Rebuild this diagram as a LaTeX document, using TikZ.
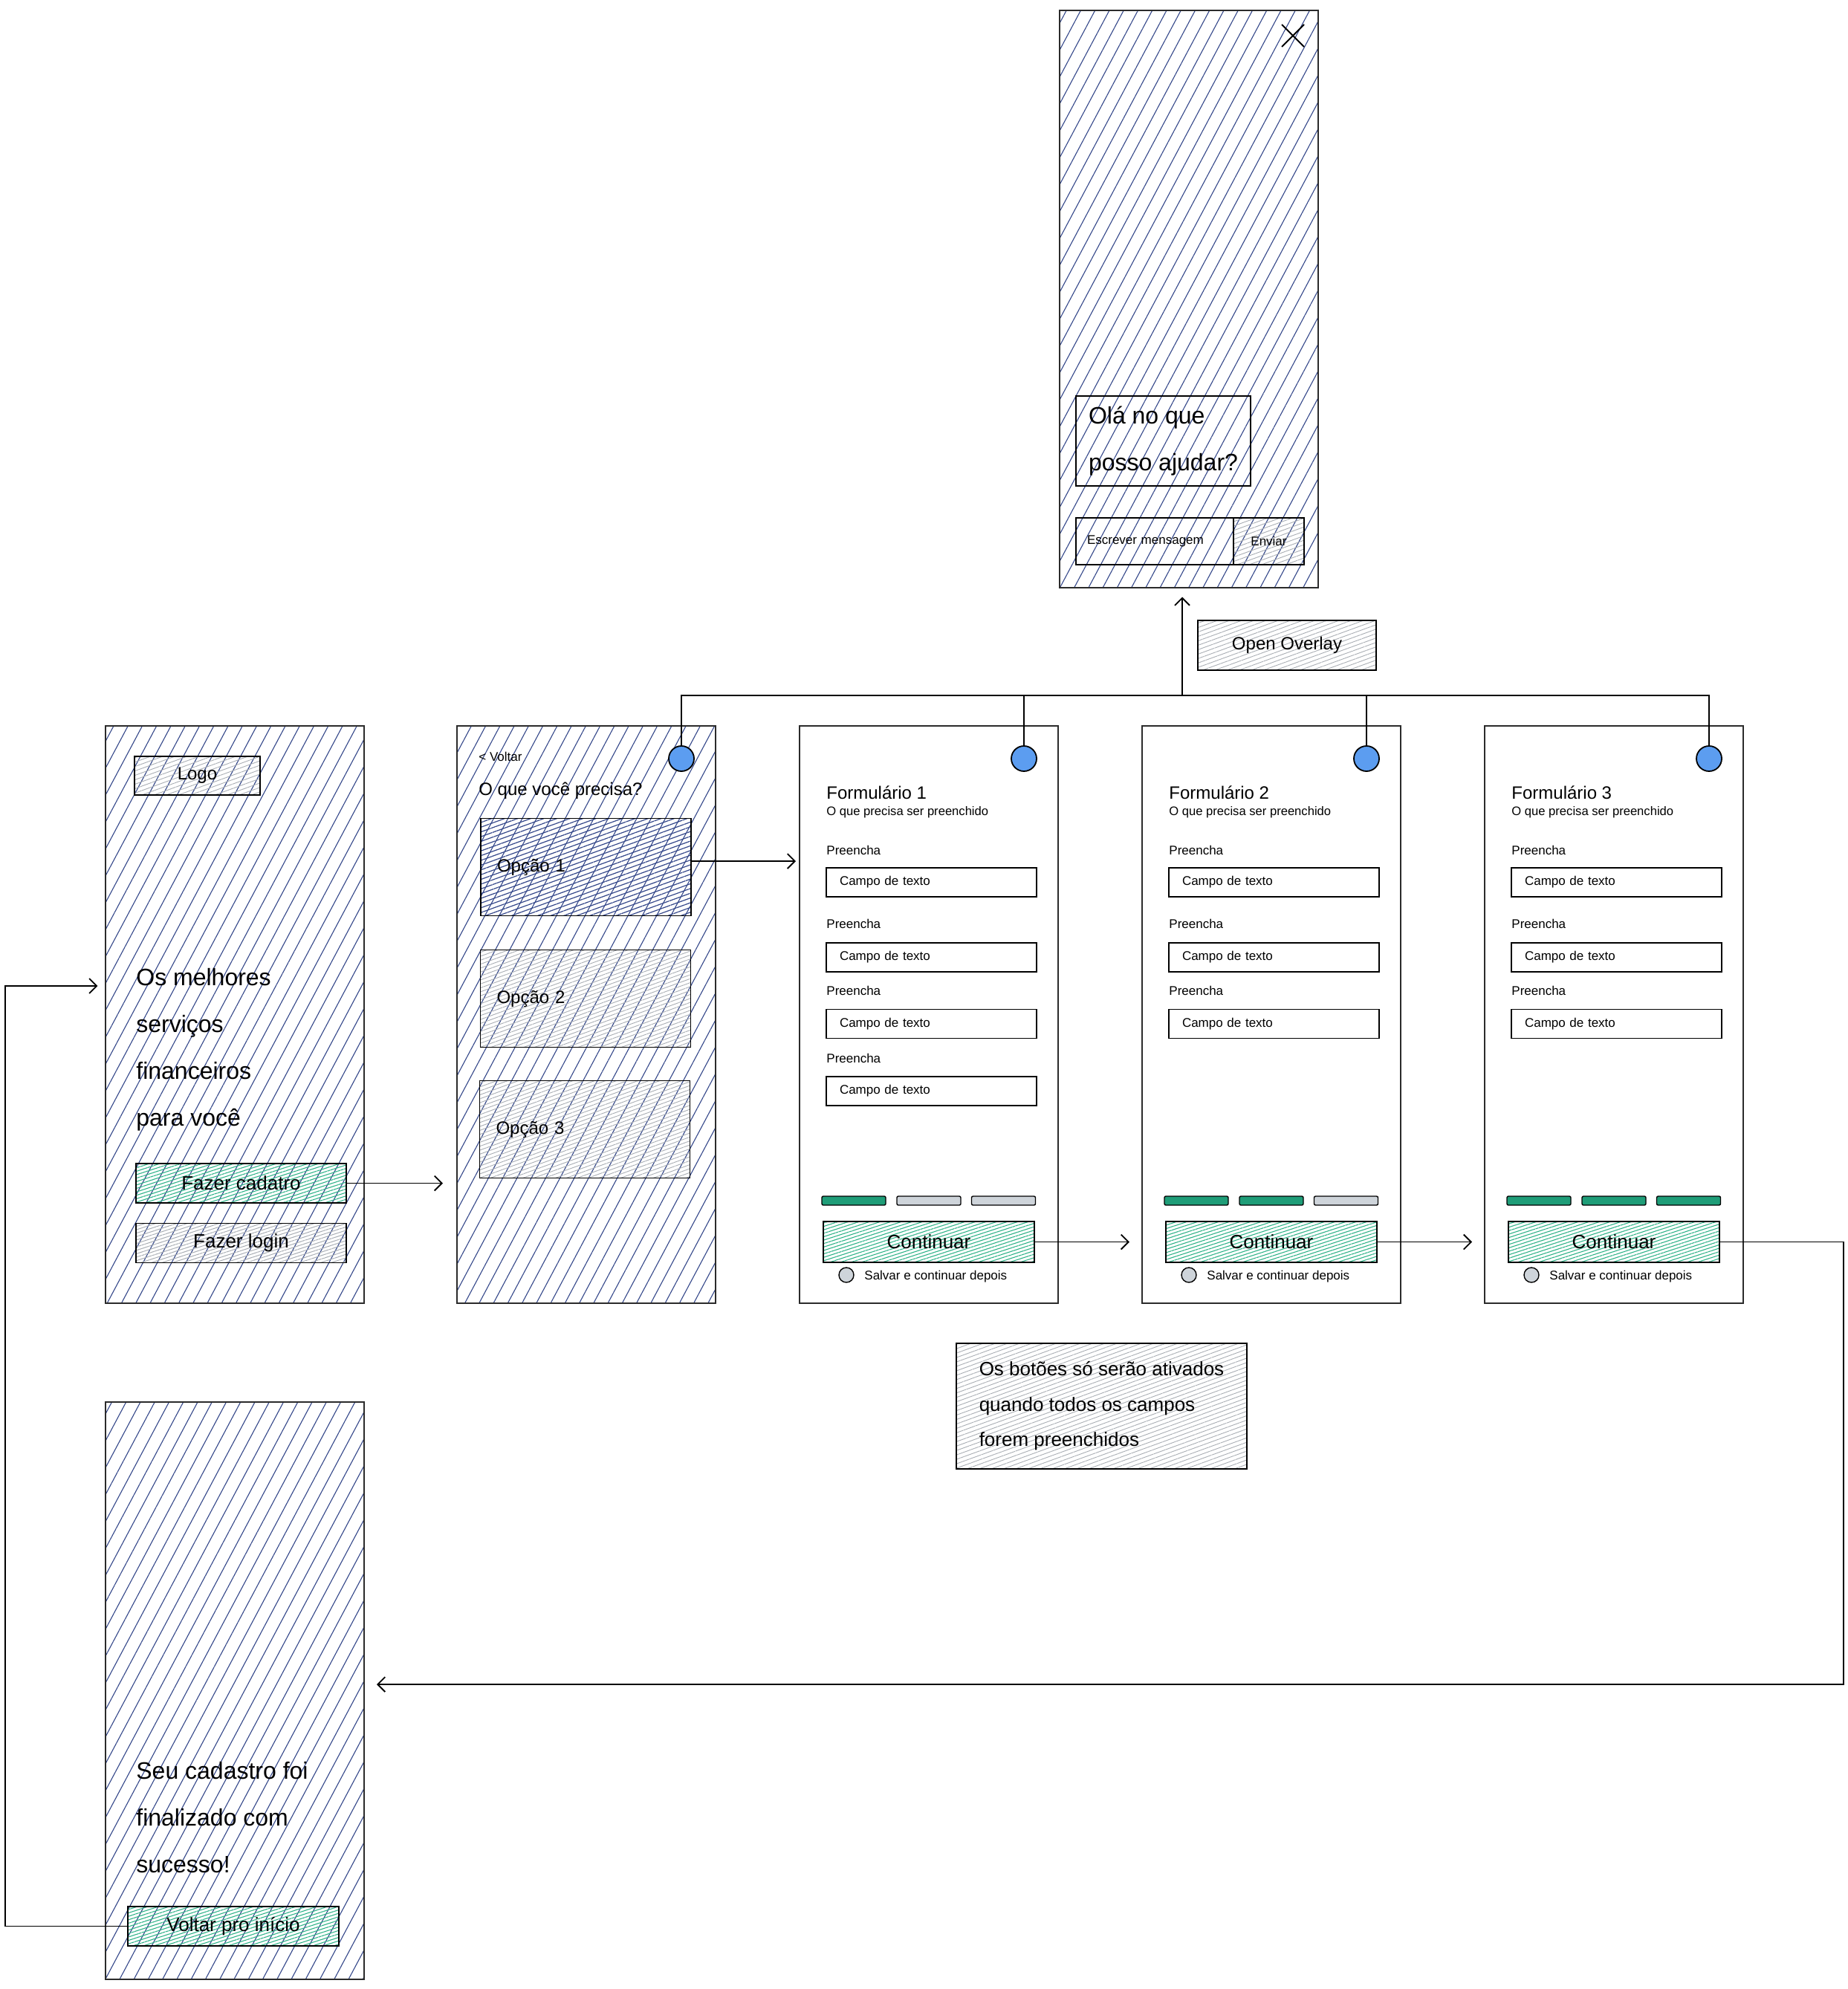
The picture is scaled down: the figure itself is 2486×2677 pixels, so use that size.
\documentclass[tikz,border=0pt]{standalone}
\usepackage{fontspec}
\setmainfont{Liberation Sans}
\usepackage{tikz}
\usetikzlibrary{arrows.meta, positioning, patterns.meta, shapes.misc}

\definecolor{hatchBlue}{HTML}{34478A}
\definecolor{hatchGreen}{HTML}{2FB388}
\definecolor{hatchGray}{HTML}{A9AEB4}
\definecolor{barGreen}{HTML}{1F9D78}
\definecolor{barGray}{HTML}{CED4DA}
\definecolor{dotBlue}{HTML}{5C9DF0}
\definecolor{inkGray}{HTML}{2B2B2B}

\begin{document}
\begin{tikzpicture}[
        x=0.5pt, y=-0.5pt,
        screenNode/.style={rectangle, draw=inkGray, line width=1pt, minimum width=174pt, minimum height=388.5pt},
        hatchScreen/.style={screenNode, pattern={Lines[angle=62, distance=8.5pt, line width=0.55pt]}, pattern color=hatchBlue},
        btnNode/.style={rectangle, draw, line width=0.9pt, minimum width=141.5pt, minimum height=26.5pt, font=\fontsize{13}{15}\selectfont},
        greenBtn/.style={btnNode, pattern={Lines[angle=18, distance=2.2pt, line width=0.55pt]}, pattern color=hatchGreen},
        grayBtn/.style={btnNode, pattern={Lines[angle=18, distance=2.2pt, line width=0.5pt]}, pattern color=hatchGray},
        grayBox/.style={rectangle, draw, line width=0.9pt, pattern={Lines[angle=20, distance=2.8pt, line width=0.45pt]}, pattern color=hatchGray},
        optionBox/.style={rectangle, draw, line width=0.9pt, minimum width=141.5pt, minimum height=65.5pt, text width=119.5pt, inner xsep=11pt, align=left, font=\fontsize{12}{14}\selectfont},
        fieldNode/.style={rectangle, draw, line width=0.8pt, minimum height=19.5pt, text width=123.5pt, inner xsep=9pt, align=left, font=\fontsize{8.5}{10}\selectfont},
        barNode/.style={rectangle, draw, line width=0.7pt, rounded corners=1pt, minimum width=43pt, minimum height=6pt, inner sep=0pt},
        dotNode/.style={circle, draw, line width=0.9pt, fill=dotBlue, minimum size=17pt, inner sep=0pt},
        radioNode/.style={circle, draw, line width=0.7pt, fill=barGray, minimum size=10pt, inner sep=0pt},
        bigText/.style={font=\fontsize{16}{31.5}\selectfont, align=left, anchor=west, inner sep=0pt},
        midText/.style={font=\fontsize{12}{14}\selectfont, anchor=west, inner sep=0pt},
        smallText/.style={font=\fontsize{8.5}{10}\selectfont, anchor=west, inner sep=0pt},
        wire/.style={line width=0.9pt},
        arrow/.style={-{Straight Barb[length=5pt, width=10pt]}, line width=0.9pt}
    ]
        \path[use as bounding box, fill=white] (0,0) rectangle (2486,2677);

        % home screen
        \node[hatchScreen] (homeScreen) at (316,1365) {};
        \node[grayBox, minimum width=84.5pt, minimum height=26pt, font=\fontsize{12}{14}\selectfont] (logo) at (265.5,1044) {Logo};
        \node[bigText] (homeText) at (183,1413) {Os melhores\\serviços\\financeiros\\para você};
        \node[greenBtn] (signUp) at (324.5,1592.5) {Fazer cadatro};
        \node[grayBtn] (logIn) at (324.5,1673) {Fazer login};

        % options screen
        \node[hatchScreen] (optionScreen) at (789,1365) {};
        \node[smallText] (back) at (644,1018) {< Voltar};
        \node[midText] (question) at (644,1064) {O que você precisa?};
        \node[optionBox, pattern={Lines[angle=20, distance=3pt, line width=0.6pt]}, pattern color=hatchBlue] (optOne) at (788.5,1167) {Opção 1};
        \node[optionBox, pattern={Lines[angle=20, distance=2.5pt, line width=0.45pt]}, pattern color=hatchGray] (optTwo) at (788,1344) {Opção 2};
        \node[optionBox, pattern={Lines[angle=20, distance=2.5pt, line width=0.45pt]}, pattern color=hatchGray] (optThree) at (787,1520) {Opção 3};
        \node[dotNode] (dotOpt) at (917,1021) {};

        % form screens
        \foreach \i/\dx/\ng in {1/0/1, 2/461/2, 3/922/3} {
            \node[screenNode] (form\i) at ({1250+\dx},1365) {};
            \node[dotNode] (dot\i) at ({1378+\dx},1021) {};
            \node[midText] (title\i) at ({1112+\dx},1067) {Formulário \i};
            \node[smallText, font=\fontsize{8.3}{10}\selectfont] (sub\i) at ({1112+\dx},1093) {O que precisa ser preenchido};
            \foreach \k/\ly/\fy in {1/1144/1187.5, 2/1243/1288.5, 3/1333/1378} {
                \node[smallText] (label\i\k) at ({1112+\dx},\ly) {Preencha};
                \node[fieldNode] (field\i\k) at ({1253.5+\dx},\fy) {Campo de texto};
            }
            \foreach \b/\bx in {1/1149, 2/1250, 3/1350.5} {
                \ifnum\b>\ng \def\barCol{barGray}\else\def\barCol{barGreen}\fi
                \node[barNode, fill=\barCol] (bar\i\b) at ({\bx+\dx},1616) {};
            }
            \node[greenBtn, minimum width=142pt, minimum height=27.5pt] (cont\i) at ({1250+\dx},1671.5) {Continuar};
            \node[radioNode] (radio\i) at ({1139+\dx},1716) {};
            \node[smallText] (save\i) at ({1163+\dx},1718) {Salvar e continuar depois};
        }
        \node[smallText] (label14) at (1112,1424) {Preencha};
        \node[fieldNode] (field14) at (1253.5,1468.5) {Campo de texto};

        % note
        \node[grayBox, minimum width=195.5pt, minimum height=84.5pt, align=left, font=\fontsize{13}{23.75}\selectfont] (note) at (1482.5,1892.5) {Os botões só serão ativados\\quando todos os campos\\forem preenchidos};

        % chat overlay
        \node[hatchScreen] (overlay) at (1600,402) {};
        \node[cross out, draw, line width=1pt, minimum size=14pt] (closeIcon) at (1740,48) {};
        \node[bigText, anchor=center, draw, line width=0.9pt, minimum width=117.5pt, minimum height=60.5pt] (greeting) at (1565.5,593.5) {Olá no que\\posso ajudar?};
        \node[fieldNode, minimum height=31.5pt, text width=91pt, inner xsep=7.5pt] (msgInput) at (1554,728.5) {Escrever mensagem};
        \node[grayBox, minimum width=47.5pt, minimum height=31.5pt, font=\fontsize{8.5}{10}\selectfont] (sendBtn) at (1707.5,728.5) {Enviar};
        \node[grayBox, minimum width=120pt, minimum height=33.5pt, font=\fontsize{12}{14}\selectfont] (openOverlay) at (1732,868.5) {Open Overlay};

        % done screen
        \node[hatchScreen] (doneScreen) at (316,2275.5) {};
        \node[bigText] (doneText) at (183,2446) {Seu cadastro foi\\finalizado com\\sucesso!};
        \node[greenBtn, minimum width=142pt] (backHome) at (314,2592.5) {Voltar pro início};

        % connectors
        \coordinate (hub) at (1591,936);
        \coordinate (rightTurn) at (2481,2267);
        \coordinate (leftTurn) at (7,1327);
        \coordinate (optOut) at ([yshift=4pt]optOne.east);
        \draw[arrow, shorten >=9pt] (signUp.east) -- (optionScreen.west |- signUp.east);
        \draw[arrow, shorten >=2pt] (optOut) -- (form1.west |- optOut);
        \draw[arrow, shorten >=8pt] (cont1.east) -- (form2.west |- cont1.east);
        \draw[arrow, shorten >=8pt] (cont2.east) -- (form3.west |- cont2.east);
        \draw[wire] (dotOpt.north) |- (hub) -| (dot3.north);
        \draw[wire] (dot1.north) -- (dot1.north |- hub);
        \draw[wire] (dot2.north) -- (dot2.north |- hub);
        \draw[arrow, shorten >=6pt] (hub) -- (hub |- overlay.south);
        \draw[arrow, shorten >=8pt] (cont3.east) -| (rightTurn) -- (doneScreen.east |- rightTurn);
        \draw[arrow, shorten >=5pt] (backHome.west) -| (leftTurn) -- (homeScreen.west |- leftTurn);
    \end{tikzpicture}
\end{document}
